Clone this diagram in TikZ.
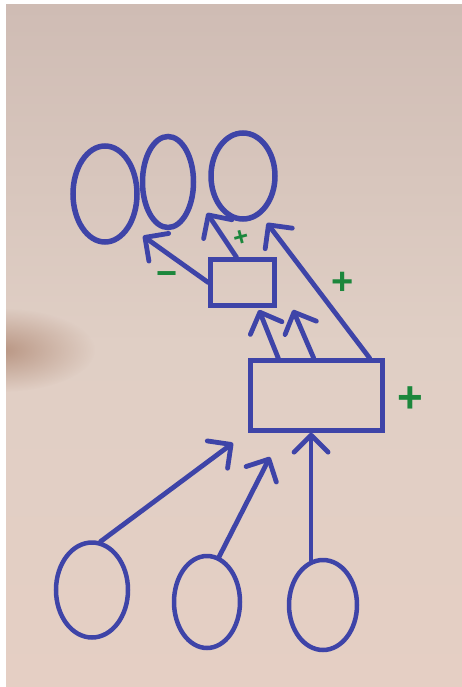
\documentclass[tikz,border=0pt]{standalone}
\usepackage{fontspec}
\setmainfont{Liberation Sans}
\usetikzlibrary{arrows.meta,shapes.geometric,calc,fadings}
\definecolor{ink}{RGB}{62,68,168}
\definecolor{pen}{RGB}{28,135,60}
\definecolor{papertop}{RGB}{207,188,180}
\definecolor{papermid}{RGB}{224,207,197}
\definecolor{paperbot}{RGB}{229,207,196}
\definecolor{shadowc}{RGB}{178,140,120}
\tikzfading[name=softspot, inner color=transparent!0, outer color=transparent!100]
\begin{document}
\begin{tikzpicture}[x=1pt,y=-1pt,
  topoval/.style={ellipse, draw=ink, line width=5.5pt, inner sep=0pt},
  botoval/.style={ellipse, draw=ink, line width=4.5pt, inner sep=0pt},
  box/.style={rectangle, draw=ink, line width=4.5pt, inner sep=0pt},
  arr/.style={draw=ink, line width=4.8pt, line cap=round,
    -{Straight Barb[length=17pt,width=34pt,round]}},
  sign/.style={text=pen, inner sep=0pt, font=\bfseries\fontsize{38}{38}\selectfont}]
\useasboundingbox (0,0) rectangle (462,687);
% paper
\fill[white] (0,0) rectangle (462,687);
\fill[top color=papertop, bottom color=paperbot, middle color=papermid] (6,5) rectangle (462,687);
\begin{scope}
  \clip (6,5) rectangle (462,687);
  \fill[shadowc, opacity=0.85, path fading=softspot] (0,350) ellipse [x radius=95, y radius=42];
\end{scope}
% top ovals
\node[topoval, minimum width=64pt, minimum height=96pt] (E1) at (105,194) {};
\node[topoval, minimum width=51pt, minimum height=91pt] (E2) at (168,182) {};
\node[topoval, minimum width=64pt, minimum height=86pt] (E3) at (243,176) {};
% boxes
\node[box, minimum width=64pt, minimum height=46pt] (R1) at (242.5,282.5) {};
\node[box, minimum width=132pt, minimum height=70pt] (R2) at (316.5,395.5) {};
% bottom circles
\node[botoval, minimum width=72pt, minimum height=95pt] (C1) at (92,590) {};
\node[botoval, minimum width=66pt, minimum height=92pt] (C2) at (207,602) {};
\node[botoval, minimum width=68pt, minimum height=90pt] (C3) at (323,605) {};
% arrow tips
\coordinate (t1) at (143,236);
\coordinate (t2) at (207,213);
\coordinate (t3) at (267,223);
\coordinate (t4) at (259,310);
\coordinate (t5) at (293,310);
\coordinate (t6) at (233,443);
\coordinate (t7) at (270,457);
% connectors
\draw[arr] (R1.west) -- (t1);
\draw[arr] ($(R1.north)+(-6,0)$) -- (t2);
\draw[arr] ($(R2.north east)+(-15,0)$) -- (t3);
\draw[arr] ($(R2.north west)!0.22!(R2.north east)$) -- (t4);
\draw[arr] ($(R2.north west)!0.48!(R2.north east)$) -- (t5);
\draw[arr] (C1.80) -- (t6);
\draw[arr] (C2.75) -- (t7);
\draw[arr] (C3.105) -- (C3.105 |- R2.south);
% signs
\node[sign, font=\bfseries\fontsize{36}{36}\selectfont] (lm) at (167,279) {−};
\node[sign, rotate=15, font=\bfseries\fontsize{26}{26}\selectfont] (lp1) at (241,238) {+};
\node[sign] (lp2) at (343,283) {+};
\node[sign, font=\bfseries\fontsize{44}{44}\selectfont] (lp3) at (410,400) {+};
\end{tikzpicture}
\end{document}
